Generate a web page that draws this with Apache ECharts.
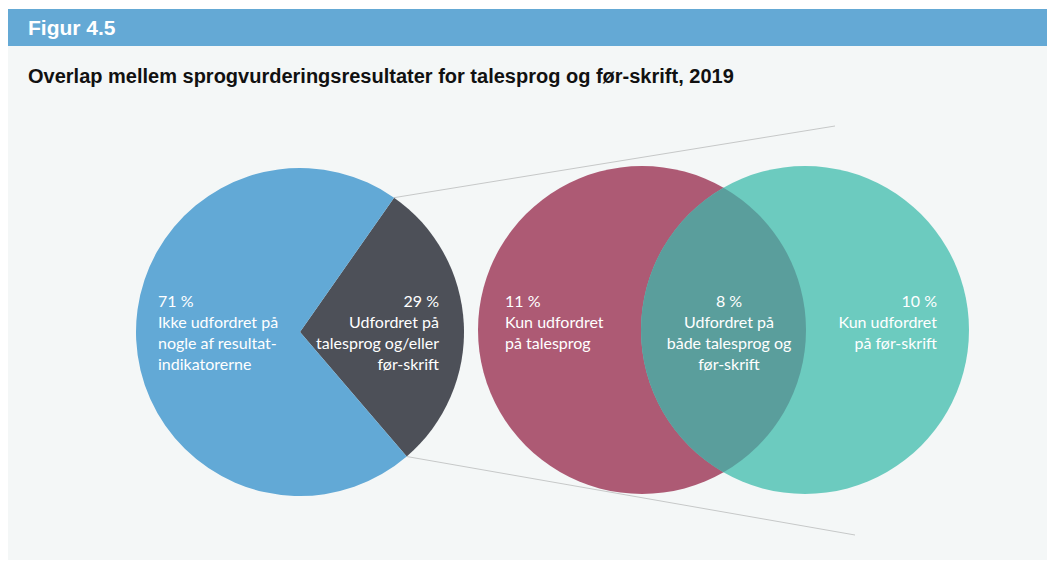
<!DOCTYPE html>
<html>
<head>
<meta charset="utf-8">
<script src="https://cdn.jsdelivr.net/npm/echarts@6/dist/echarts.min.js"></script>
<style>
    html, body { margin: 0; padding: 0; background: #fff; }
    #chart { width: 1053px; height: 562px; }
</style>
</head>
<body>
<div id="chart"></div>
<script>
// pie: andel børn (procent)
const pieNames = ['Udfordret på\ntalesprog og/eller\nfør-skrift', 'Ikke udfordret på\nnogle af resultat-\nindikatorerne']
const pieValues = [29, 71]
const pieColors = ['#4d5058', '#62a9d6']

// venn: de 29 % fordelt
const vennNames = ['Kun udfordret\npå talesprog', 'Udfordret på\nbåde talesprog og\nfør-skrift', 'Kun udfordret\npå før-skrift']
const vennValues = [11, 8, 10]
const vennColors = ['#ad5a74', '#5a9e9c', '#6ccbbf']

const labelFont = 'Lato, "Open Sans", sans-serif'

// pie geometri
const pieCenter = [300, 332]
const pieR = 164
const pieStart = 55

const chart = echarts.init(document.getElementById('chart'), null, { renderer: 'svg' })

// kanter af det mørke udsnit -> forbindelseslinjer
const total = pieValues.reduce((a, b) => a + b, 0)
const endAngle = pieStart - pieValues[0] / total * 360
const edge = ang => [
    pieCenter[0] + pieR * Math.cos(ang * Math.PI / 180),
    pieCenter[1] - pieR * Math.sin(ang * Math.PI / 180)
]
const p1 = edge(pieStart)
const p2 = edge(endAngle)

function txt(x, y, value, name, align) {
    return {
        type: 'text',
        x: x,
        y: y,
        z: 10,
        style: {
            text: value + ' %\n' + name,
            fill: '#fff',
            font: '16px ' + labelFont,
            lineHeight: 21,
            align: align,
            verticalAlign: 'top'
        }
    }
}

// overlap (linse) mellem to cirkler
function renderLens(params, api) {
    const a = api.coord([api.value(0), api.value(1)])
    const b = api.coord([api.value(2), api.value(3)])
    const d = b[0] - a[0]
    const h = Math.sqrt(pieR * pieR - (d / 2) * (d / 2))
    const xm = a[0] + d / 2
    const top = a[1] - h
    const bot = a[1] + h
    return {
        type: 'path',
        shape: {
            pathData: `M ${xm} ${top} A ${pieR} ${pieR} 0 0 1 ${xm} ${bot} A ${pieR} ${pieR} 0 0 1 ${xm} ${top} Z`
        },
        style: { fill: vennColors[1] }
    }
}

const option = {
    backgroundColor: '#fff',
    animation: false,
    grid: { left: 642, right: 1053 - 805, top: 100, bottom: 562 - 560 },
    xAxis: { type: 'value', min: 0, max: 1, show: false },
    yAxis: { type: 'value', min: 0, max: 1, show: false },
    graphic: [
        { type: 'rect', shape: { x: 8, y: 9, width: 1039, height: 37 }, style: { fill: '#64a9d5' }, z: -10 },
        { type: 'rect', shape: { x: 8, y: 46, width: 1039, height: 514 }, style: { fill: '#f4f7f7' }, z: -10 },
        {
            type: 'text', x: 28, y: 27,
            style: { text: 'Figur 4.5', fill: '#fff', font: 'bold 21px "Liberation Sans", Arial, sans-serif', verticalAlign: 'middle' }
        },
        {
            type: 'text', x: 28, y: 76,
            style: { text: 'Overlap mellem sprogvurderingsresultater for talesprog og før-skrift, 2019', fill: '#111', font: 'bold 20px "Liberation Sans", Arial, sans-serif', verticalAlign: 'middle' }
        },
        { type: 'line', shape: { x1: p1[0], y1: p1[1], x2: 835, y2: 126 }, style: { stroke: '#c6c8c8', lineWidth: 1 }, z: -5 },
        { type: 'line', shape: { x1: p2[0], y1: p2[1], x2: 855, y2: 535 }, style: { stroke: '#c6c8c8', lineWidth: 1 }, z: -5 },
        txt(158, 290, pieValues[1], pieNames[1], 'left'),
        txt(439, 290, pieValues[0], pieNames[0], 'right'),
        txt(505, 290, vennValues[0], vennNames[0], 'left'),
        txt(729, 290, vennValues[1], vennNames[1], 'center'),
        txt(937, 290, vennValues[2], vennNames[2], 'right')
    ],
    series: [
        {
            type: 'pie',
            center: pieCenter,
            radius: [0, pieR],
            startAngle: pieStart,
            clockwise: true,
            silent: true,
            label: { show: false },
            labelLine: { show: false },
            itemStyle: { borderWidth: 0 },
            data: pieValues.map((v, i) => ({ value: v, name: pieNames[i], itemStyle: { color: pieColors[i] } }))
        },
        {
            // venn-cirkler: talesprog og før-skrift
            type: 'scatter',
            silent: true,
            symbol: 'circle',
            symbolSize: pieR * 2,
            data: [
                { value: [0, 0.5], itemStyle: { color: vennColors[0], opacity: 1 } },
                { value: [1, 0.5], itemStyle: { color: vennColors[2], opacity: 1 } }
            ]
        },
        {
            type: 'custom',
            silent: true,
            z: 3,
            renderItem: renderLens,
            data: [[0, 0.5, 1, 0.5]]
        }
    ]
}

chart.setOption(option)
</script>
</body>
</html>
